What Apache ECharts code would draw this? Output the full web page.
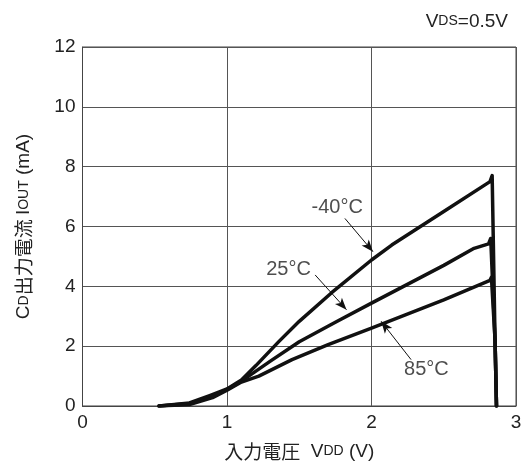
<!DOCTYPE html>
<html>
<head>
<meta charset="utf-8">
<script src="https://cdn.jsdelivr.net/npm/echarts/dist/echarts.min.js"></script>
<style>
  html, body { margin: 0; padding: 0; background: #fff; }
  #chart { width: 526px; height: 466px; }
</style>
</head>
<body>
<div id="chart"></div>
<script>
// Output current Iout (mA) versus input voltage Vdd (V), Vds = 0.5 V
const xTicks = [0, 1, 2, 3];
const yTicks = [0, 2, 4, 6, 8, 10, 12];

const curveM40 = [
  [0.53, 0], [0.74, 0.1], [0.88, 0.35], [1.0, 0.57], [1.1, 0.87], [1.2, 1.35],
  [1.36, 2.16], [1.5, 2.83], [1.72, 3.77], [2.0, 4.88], [2.14, 5.38], [2.5, 6.5],
  [2.82, 7.5], [2.835, 7.7], [2.855, 2.2], [2.865, 0]
];
const curve25 = [
  [0.53, 0], [0.74, 0.08], [0.88, 0.3], [1.0, 0.55], [1.1, 0.83], [1.3, 1.5],
  [1.5, 2.15], [1.75, 2.8], [2.0, 3.44], [2.5, 4.7], [2.71, 5.27], [2.81, 5.42],
  [2.825, 5.6], [2.855, 2.2], [2.865, 0]
];
const curve85 = [
  [0.53, 0], [0.74, 0.05], [0.9, 0.28], [1.0, 0.53], [1.1, 0.8], [1.22, 1.0],
  [1.45, 1.55], [1.7, 2.05], [2.0, 2.6], [2.5, 3.55], [2.82, 4.2], [2.83, 4.3],
  [2.855, 2.2], [2.865, 0]
];

// temperature labels: [x, y, text]
const tempLabels = [
  [1.763, 6.62, '-40°C'],
  [1.426, 4.55, '25°C'],
  [2.38, 1.22, '85°C']
];
// leader arrows: [tailX, tailY, headX, headY]
const tempArrows = [
  [1.816, 6.27, 2.01, 5.16],
  [1.61, 4.38, 1.827, 3.22],
  [2.274, 1.55, 2.067, 2.83]
];

const FONT = '"Liberation Sans", Arial, "Noto Sans CJK JP", sans-serif';
const CJK = '"Noto Sans CJK JP", "Liberation Sans", sans-serif';
const INK = '#222';

function curveSeries(name, data) {
  return {
    name: name,
    type: 'line',
    data: data,
    showSymbol: false,
    symbol: 'none',
    smooth: false,
    silent: true,
    lineStyle: { color: '#111', width: 3.5, join: 'round', cap: 'round' },
    z: 3
  };
}

function richStyles(size, small) {
  return {
    a: { fontFamily: FONT, fontSize: size, color: INK, fontWeight: 'normal' },
    b: { fontFamily: FONT, fontSize: small, color: INK, fontWeight: 'normal' },
    c: { fontFamily: CJK, fontSize: size, color: INK, fontWeight: 'normal' }
  };
}

const chart = echarts.init(document.getElementById('chart'), null, { renderer: 'canvas' });

chart.setOption({
  animation: false,
  backgroundColor: '#fff',
  title: {
    text: '{a|V}{b|DS}{a|=0.5V}',
    right: 13,
    top: 7,
    textStyle: { fontWeight: 'normal', rich: richStyles(19, 14) }
  },
  grid: {
    left: 82.5, right: 10, top: 47, bottom: 59.5,
    show: true, borderColor: '#444', borderWidth: 1, containLabel: false
  },
  xAxis: {
    type: 'value',
    min: xTicks[0], max: xTicks[xTicks.length - 1], interval: 1,
    axisLine: { show: true, lineStyle: { color: '#444', width: 1 } },
    axisTick: { show: false },
    axisLabel: { fontFamily: FONT, fontSize: 19, color: INK, margin: 7 },
    splitLine: { show: true, lineStyle: { color: '#555', width: 1 } },
    name: '{c|入力電圧}{a|  V}{b|DD}{a| (V)}',
    nameLocation: 'middle',
    nameGap: 36,
    nameTextStyle: { rich: richStyles(19, 14) }
  },
  yAxis: {
    type: 'value',
    min: yTicks[0], max: yTicks[yTicks.length - 1], interval: 2,
    axisLine: { show: true, lineStyle: { color: '#444', width: 1 } },
    axisTick: { show: false },
    axisLabel: { fontFamily: FONT, fontSize: 19, color: INK, margin: 7 },
    splitLine: { show: true, lineStyle: { color: '#555', width: 1 } },
    name: '{a|C}{b|D}{c|出力電流 }{a|I}{b|OUT}{a| (mA)}',
    nameLocation: 'middle',
    nameGap: 49,
    nameTextStyle: { rich: richStyles(19, 14) }
  },
  series: [
    curveSeries('-40°C', curveM40),
    curveSeries('25°C', curve25),
    curveSeries('85°C', curve85),
    {
      name: 'labels',
      type: 'scatter',
      data: tempLabels,
      symbolSize: 1,
      silent: true,
      itemStyle: { color: 'rgba(0,0,0,0)' },
      label: {
        show: true,
        position: 'inside',
        formatter: p => p.data[2],
        fontFamily: FONT,
        fontSize: 20,
        color: INK
      },
      markLine: {
        silent: true,
        symbol: ['none', 'arrow'],
        symbolSize: [7, 12],
        label: { show: false },
        lineStyle: { color: '#111', width: 1, type: 'solid' },
        data: tempArrows.map(a => [
          { coord: [a[0], a[1]] },
          { coord: [a[2], a[3]] }
        ])
      },
      z: 4
    }
  ]
});
</script>
</body>
</html>
